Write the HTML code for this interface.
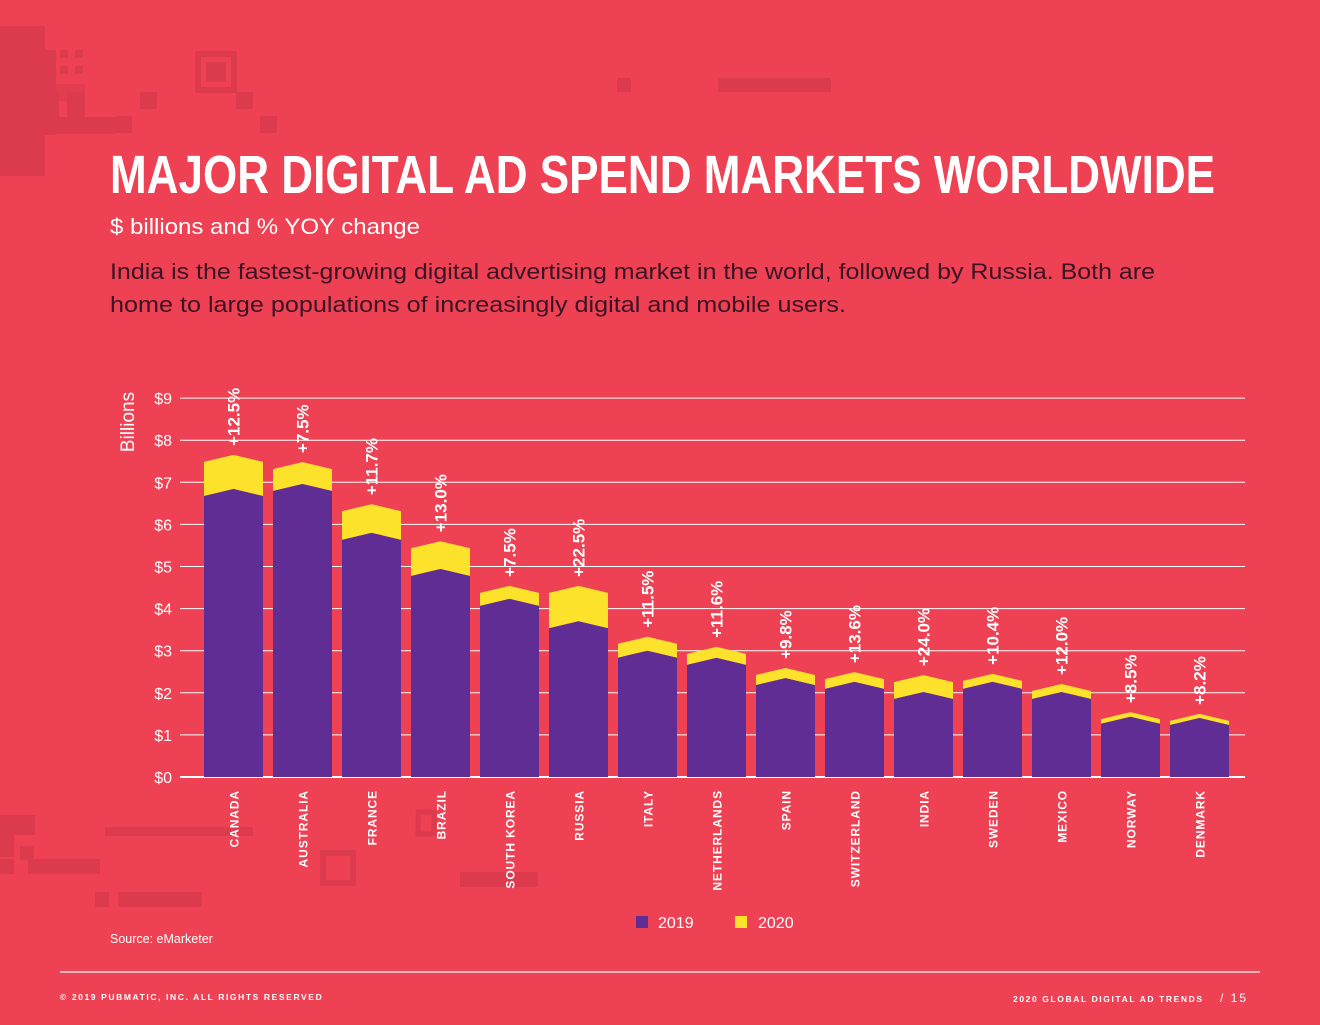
<!DOCTYPE html>
<html><head><meta charset="utf-8"><style>
html,body{margin:0;padding:0;background:#ee4153;}
body{width:1320px;height:1020px;overflow:hidden;font-family:"Liberation Sans",sans-serif;}
</style></head><body>
<svg id="s" width="1320" height="1020" viewBox="0 0 1320 1020" xmlns="http://www.w3.org/2000/svg">
<rect width="1320" height="1020" fill="#ee4153"/>
<g fill="#dc3b4e">
<rect x="0" y="26" width="45" height="150"/>
<rect x="45" y="50" width="11" height="85"/>
<rect x="60" y="50" width="8" height="8"/><rect x="75" y="50" width="8" height="8"/>
<rect x="60" y="66" width="8" height="8"/><rect x="75" y="66" width="8" height="8"/>
<rect x="45" y="84" width="40" height="17" opacity="0.7"/>
<rect x="45" y="92" width="14" height="25"/><rect x="67" y="92" width="18" height="25"/>
<rect x="45" y="117" width="70" height="17"/>
<rect x="140" y="92" width="17" height="17"/>
<rect x="115" y="116" width="17" height="17"/>
<rect x="260" y="116" width="17" height="17"/>
<rect x="236" y="92" width="17" height="17"/>
<rect x="198" y="54" width="36" height="36" fill="none" stroke="#dc3b4e" stroke-width="6"/>
<rect x="206" y="62" width="20" height="20"/>
<rect x="617" y="78" width="14" height="14"/>
<rect x="718" y="78" width="113" height="14"/>
<rect x="0" y="815" width="35" height="20"/>
<rect x="0" y="835" width="14" height="22"/>
<rect x="20" y="846" width="14" height="14"/>
<rect x="28" y="859" width="72" height="15"/>
<rect x="0" y="859" width="14" height="15"/>
<rect x="105" y="827" width="148" height="9"/>
<rect x="95" y="892" width="14" height="15"/>
<rect x="118" y="892" width="84" height="15"/>
<rect x="323" y="853" width="30" height="30" fill="none" stroke="#dc3b4e" stroke-width="6"/>
<rect x="418" y="812" width="16" height="22" fill="none" stroke="#dc3b4e" stroke-width="5"/>
<rect x="460" y="872" width="78" height="15"/>
</g>
<text x="110" y="193" font-family="'Liberation Sans Narrow','Liberation Sans',sans-serif" font-weight="bold" font-size="54" fill="#fff" textLength="1105" lengthAdjust="spacingAndGlyphs">MAJOR DIGITAL AD SPEND MARKETS WORLDWIDE</text>
<text x="110" y="234" font-size="22" fill="#fff" textLength="310" lengthAdjust="spacingAndGlyphs">$ billions and % YOY change</text>
<text x="110" y="279" font-size="22" fill="#3a1424" textLength="1045" lengthAdjust="spacingAndGlyphs">India is the fastest-growing digital advertising market in the world, followed by Russia. Both are</text>
<text x="110" y="312" font-size="22" fill="#3a1424" textLength="736" lengthAdjust="spacingAndGlyphs">home to large populations of increasingly digital and mobile users.</text>
<g id="grid"></g>
<g id="bars"></g>
<text transform="translate(134,422) rotate(-90)" text-anchor="middle" font-size="19" fill="#fff">Billions</text>
<rect x="636" y="916" width="12" height="12" fill="#5f2d94"/>
<text x="658" y="928" font-size="16" fill="#fff">2019</text>
<rect x="735" y="916" width="12" height="12" fill="#fde22b"/>
<text x="758" y="928" font-size="16" fill="#fff">2020</text>
<text x="110" y="943" font-size="12.5" fill="#fff">Source: eMarketer</text>
<line x1="60" y1="972" x2="1260" y2="972" stroke="#fff" stroke-width="1.3"/>
<text x="60" y="1000" font-size="8.5" font-weight="bold" fill="#fff" letter-spacing="1.6">© 2019 PUBMATIC, INC. ALL RIGHTS RESERVED</text>
<text x="1013" y="1002" font-size="8.5" font-weight="bold" fill="#fff" letter-spacing="1.6">2020 GLOBAL DIGITAL AD TRENDS</text>
<text x="1220" y="1002" font-size="12" fill="#fff" letter-spacing="2">/  15</text>
</svg>
<script>
const countries=["CANADA","AUSTRALIA","FRANCE","BRAZIL","SOUTH KOREA","RUSSIA","ITALY","NETHERLANDS","SPAIN","SWITZERLAND","INDIA","SWEDEN","MEXICO","NORWAY","DENMARK"];
const values2019=[6.84,6.96,5.80,4.94,4.23,3.70,3.00,2.83,2.35,2.26,2.02,2.26,2.02,1.43,1.40];
const values2020=[7.65,7.48,6.48,5.60,4.54,4.54,3.33,3.09,2.59,2.49,2.42,2.45,2.21,1.54,1.50];
const growthLabels=["+12.5%","+7.5%","+11.7%","+13.0%","+7.5%","+22.5%","+11.5%","+11.6%","+9.8%","+13.6%","+24.0%","+10.4%","+12.0%","+8.5%","+8.2%"];
const yTicks=[0,1,2,3,4,5,6,7,8,9];
const NS="http://www.w3.org/2000/svg";
const y0=777,pxPer=42.1,x0=204,step=69,bw=59,drop=7;
function yScale(v){return y0-v*pxPer;}
function xScale(i){return x0+i*step;}
function mk(t,a,p){const e=document.createElementNS(NS,t);for(const k in a)e.setAttribute(k,a[k]);p.appendChild(e);return e;}
const grid=document.getElementById('grid'),bars=document.getElementById('bars');
yTicks.forEach(t=>{
 const l=mk('line',{x1:180,x2:1245,y1:yScale(t),y2:yScale(t),stroke:'#fff','stroke-width':t===0?2:1},grid);
 
 
 const tx=mk('text',{x:172,y:yScale(t)+6,'text-anchor':'end','font-size':16,fill:'#fff'},grid);
 tx.textContent='$'+t;
 
 
});
function chev(x,top,bottomPeak){
 const c=x+bw/2;
 return `${x},${top+drop} ${c},${top} ${x+bw},${top+drop} `+bottomPeak;
}
countries.forEach((c,i)=>{
 const x=xScale(i),cx=x+bw/2;
 const t20=yScale(values2020[i]),t19=yScale(values2019[i]);
 const p20=mk('polygon',{points:chev(x,t20,`${x+bw},${t19+drop} ${cx},${t19} ${x},${t19+drop}`),fill:'#fde22b'},bars);
 
 
 const p19=mk('polygon',{points:chev(x,t19,`${x+bw},${y0} ${x},${y0}`),fill:'#5f2d94'},bars);
 
 
 const lb=mk('text',{transform:`translate(${cx+6},${t20-9}) rotate(-90)`,'font-size':17,'font-weight':'bold',fill:'#fff','font-family':"'Liberation Sans Narrow','Liberation Sans',sans-serif"},bars);
 lb.textContent=growthLabels[i];
 
 
 const cl=mk('text',{transform:`translate(${cx+5},790) rotate(-90)`,'text-anchor':'end','font-size':12,'font-weight':'bold',fill:'#fff','letter-spacing':0.9,'font-family':"'Liberation Sans Narrow','Liberation Sans',sans-serif"},bars);
 cl.textContent=c;
 
 
});
</script>
</body></html>
